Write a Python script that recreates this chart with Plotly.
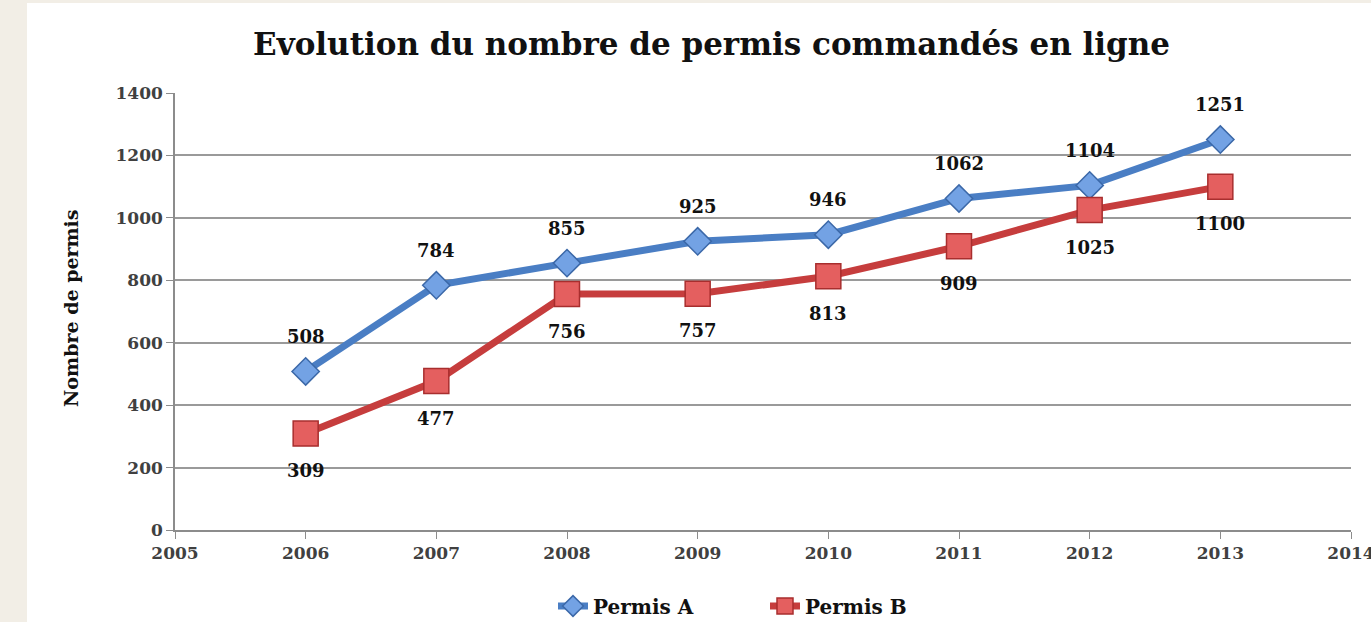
import plotly.graph_objects as go

years = [2006, 2007, 2008, 2009, 2010, 2011, 2012, 2013]
permis_a = [508, 784, 855, 925, 946, 1062, 1104, 1251]
permis_b = [309, 477, 756, 757, 813, 909, 1025, 1100]
y_ticks = [0, 200, 400, 600, 800, 1000, 1200, 1400]
x_ticks = list(range(2005, 2015))

FONT = "DejaVu Serif"
W, H = 1371, 622
L, R, T, B = 175, 20, 93, 92
pw, ph = W - L - R, H - T - B

def px_x(p):
    return (p - L) / pw

def px_y(p):
    return (H - B - p) / ph

fig = go.Figure()
fig.add_trace(go.Scatter(
    x=years, y=permis_a, name="Permis A", mode="lines+markers",
    line=dict(color="#4a7ec4", width=7),
    marker=dict(symbol="diamond", size=21, color="#73a2e4",
                line=dict(color="#3b68a8", width=1.5)),
))
fig.add_trace(go.Scatter(
    x=years, y=permis_b, name="Permis B", mode="lines+markers",
    line=dict(color="#c63d3d", width=7),
    marker=dict(symbol="square", size=25, color="#e45f5f",
                line=dict(color="#a82e2e", width=1.5)),
))

annotations = []
for x, v in zip(years, permis_a):
    annotations.append(dict(x=x, y=v, text=str(v), showarrow=False, yshift=35,
                            font=dict(family=FONT, size=18, color="#111111", weight="bold")))
for x, v in zip(years, permis_b):
    annotations.append(dict(x=x, y=v, text=str(v), showarrow=False, yshift=-37,
                            font=dict(family=FONT, size=18, color="#111111", weight="bold")))
annotations.append(dict(xref="paper", yref="paper", x=px_x(711), y=px_y(44),
                        text="Evolution du nombre de permis commandés en ligne",
                        showarrow=False, xanchor="center", yanchor="middle",
                        font=dict(family=FONT, size=31, color="#111111", weight="bold")))
annotations.append(dict(xref="paper", yref="paper", x=px_x(71), y=px_y(308),
                        text="Nombre de permis", textangle=-90,
                        showarrow=False, xanchor="center", yanchor="middle",
                        font=dict(family=FONT, size=19, color="#111111", weight="bold")))

fig.update_layout(
    width=W, height=H,
    margin=dict(l=L, r=R, t=T, b=B, autoexpand=False),
    paper_bgcolor="#f2eee6",
    plot_bgcolor="white",
    showlegend=True,
    legend=dict(orientation="h", x=px_x(553), xanchor="left", y=px_y(606), yanchor="middle",
                font=dict(family=FONT, size=20, color="#111111", weight="bold"),
                entrywidth=167, entrywidthmode="pixels",
                bgcolor="rgba(0,0,0,0)"),
    annotations=annotations,
    shapes=[dict(type="rect", xref="paper", yref="paper", layer="below",
                 x0=px_x(27), x1=px_x(W + 5), y0=px_y(H + 5), y1=px_y(3),
                 fillcolor="white", line=dict(width=0))],
    xaxis=dict(range=[2005, 2014], tickvals=x_ticks, ticktext=[str(t) for t in x_ticks],
               showgrid=False, showline=True, linecolor="#8c8c8c", linewidth=1.5,
               ticks="outside", ticklen=7, tickcolor="#8c8c8c", zeroline=False,
               ticklabeloverflow="allow",
               tickfont=dict(family=FONT, size=17, color="#404040", weight="bold")),
    yaxis=dict(range=[0, 1400], tickvals=y_ticks, showgrid=True, gridcolor="#9a9a9a",
               gridwidth=1.5, showline=True, linecolor="#8c8c8c", linewidth=1.5,
               ticks="outside", ticklen=7, tickcolor="#8c8c8c", zeroline=False,
               tickfont=dict(family=FONT, size=17, color="#404040", weight="bold")),
)

fig.write_html("out.html", config={"displayModeBar": False},
               post_script="document.body.style.margin='0';document.body.style.overflow='hidden';")
